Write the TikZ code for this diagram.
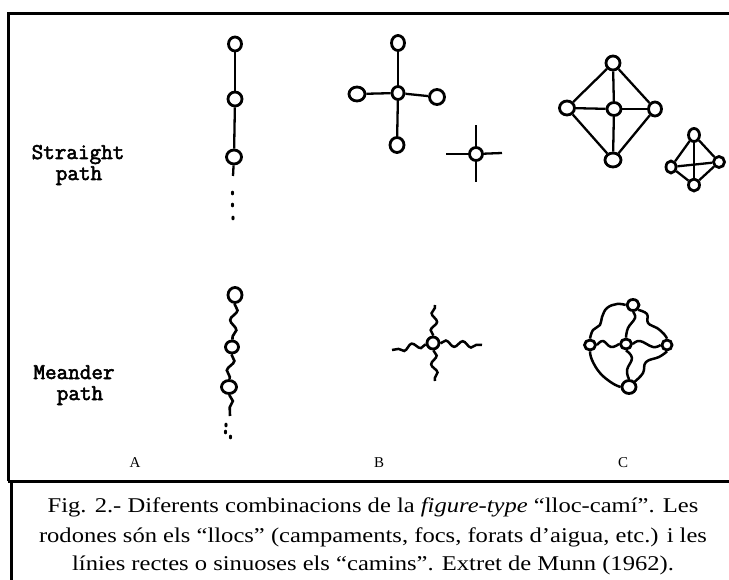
\documentclass[tikz,border=0pt]{standalone}
\usepackage{fontspec}
\setmainfont{Liberation Serif}
\newfontfamily\capfont[FakeStretch=1.17]{Liberation Serif}
\newfontfamily\typew[FakeBold=2.5]{Latin Modern Mono}
\usetikzlibrary{shapes.geometric,decorations.pathmorphing}
\begin{document}
\begin{tikzpicture}[x=1pt,y=-1pt,
  place/.style={draw,ellipse,line width=2.8pt,inner sep=0pt,fill=white},
  link/.style={line width=2.3pt},
  wavy/.style={line width=2.6pt,decorate,decoration={snake,segment length=20pt,amplitude=3.4pt}},
  wavyb/.style={line width=2.5pt,decorate,decoration={snake,segment length=17pt,amplitude=3pt}},
  wavyc/.style={line width=2.5pt,line join=round},
  dotm/.style={fill,ellipse,inner sep=0pt,minimum width=3.2pt,minimum height=4.8pt},
  frame/.style={line width=3pt},
  typelabel/.style={font=\typew\fontsize{22.5}{22}\selectfont,anchor=base},
  letter/.style={font=\fontsize{15}{18}\selectfont,anchor=base},
  caption/.style={font=\capfont\fontsize{21}{29}\selectfont,anchor=base}]
\useasboundingbox (0,0) rectangle (729,580);
% frames
\draw[frame] (8,481) -- (8,14) -- (729.5,14);
\draw[frame] (8,481) -- (729.5,481);
\draw[frame] (11,481) -- (11,581);

% labels
\node[typelabel] (ls1) at (78,159) {Straight};
\node[typelabel] (ls2) at (79,180) {path};
\node[typelabel] (lm1) at (74,379) {Meander};
\node[typelabel] (lm2) at (80,400) {path};
\node[letter] (lA) at (135,467) {A};
\node[letter] (lB) at (379,467) {B};
\node[letter] (lC) at (623,467) {C};

% ---------- straight A ----------
\node[place,minimum width=13pt,minimum height=14pt] (a1) at (235,44) {};
\node[place,minimum width=14pt,minimum height=14pt] (a2) at (235,99) {};
\node[place,minimum width=15pt,minimum height=14pt] (a3) at (234,157) {};
\coordinate (a4) at (233,176);
\draw[link] (a1) -- (a2);
\draw[link] (a2) -- (a3);
\draw[link] (a3) -- (a4);
\node[dotm] (ad1) at (232.5,193) {};
\node[dotm] (ad2) at (232.5,205) {};
\node[dotm] (ad3) at (233,218) {};

% ---------- straight B ----------
\node[place,minimum width=12pt,minimum height=13pt] (b0) at (398,93) {};
\node[place,minimum width=13pt,minimum height=15pt] (bt) at (398,43) {};
\node[place,minimum width=16pt,minimum height=14pt] (bl) at (357,94) {};
\node[place,minimum width=15pt,minimum height=15pt] (br) at (437,97) {};
\node[place,minimum width=14pt,minimum height=15pt] (bb) at (397,145) {};
\draw[link] (b0) -- (bt);
\draw[link] (b0) -- (bl);
\draw[link] (b0) -- (br);
\draw[link] (b0) -- (bb);

\node[place,minimum width=13pt,minimum height=13pt] (s0) at (476,154) {};
\coordinate (su) at (476,125);
\coordinate (sd) at (476,182);
\coordinate (sl) at (446,154);
\coordinate (sr) at (502,153);
\draw[link] (s0) -- (su);
\draw[link] (s0) -- (sd);
\draw[link] (s0) -- (sl);
\draw[link] (s0) -- (sr);

% ---------- straight C ----------
\node[place,minimum width=14pt,minimum height=14pt] (ct1) at (613,63) {};
\node[place,minimum width=15pt,minimum height=14pt] (cl1) at (567,108) {};
\node[place,minimum width=14pt,minimum height=13pt] (cc1) at (614,109) {};
\node[place,minimum width=13pt,minimum height=14pt] (cr1) at (655,109) {};
\node[place,minimum width=16pt,minimum height=14pt] (cb1) at (613,160) {};
\draw[link] (ct1) -- (cl1);
\draw[link] (ct1) -- (cr1);
\draw[link] (cl1) -- (cb1);
\draw[link] (cr1) -- (cb1);
\draw[link] (cl1) -- (cc1);
\draw[link] (cc1) -- (cr1);
\draw[link] (ct1) -- (cc1);
\draw[link] (cc1) -- (cb1);

\node[place,minimum width=11pt,minimum height=13pt] (dt) at (694,135) {};
\node[place,minimum width=10pt,minimum height=12pt] (dl) at (671,167) {};
\node[place,minimum width=11pt,minimum height=11pt] (dr) at (719,162) {};
\node[place,minimum width=11pt,minimum height=12pt] (db) at (694,185) {};
\draw[link] (dt) -- (dl);
\draw[link] (dt) -- (dr);
\draw[link] (dl) -- (db);
\draw[link] (dr) -- (db);
\draw[link] (dt) -- (db);
\draw[link] (dl) -- (dr);

% ---------- meander A ----------
\node[place,minimum width=14pt,minimum height=15pt] (m1) at (235,295) {};
\node[place,minimum width=13pt,minimum height=12pt] (m2) at (232,347) {};
\node[place,minimum width=15pt,minimum height=13pt] (m3) at (229,387) {};
\coordinate (m4) at (230,416);
\draw[wavy] (m1) -- (m2);
\draw[wavy] (m2) -- (m3);
\draw[wavy] (m3) -- (m4);
\node[dotm] (md1) at (226,425) {};
\node[dotm] (md2) at (225.5,432) {};
\node[dotm] (md3) at (230.5,437) {};

% ---------- meander B ----------
\node[place,minimum width=12pt,minimum height=12pt] (n0) at (433,343) {};
\coordinate (nu) at (435,305);
\coordinate (nd) at (435,381);
\coordinate (nl) at (392,350);
\coordinate (nr) at (482,345);
\draw[wavyb] (n0) -- (nu);
\draw[wavyb] (n0) -- (nd);
\draw[wavyb] (n0) -- (nl);
\draw[wavyb] (n0) -- (nr);

% ---------- meander C ----------
\node[place,minimum width=12pt,minimum height=11pt] (kt) at (633,305) {};
\node[place,minimum width=11pt,minimum height=10pt] (kl) at (590,345) {};
\node[place,minimum width=11pt,minimum height=10pt] (kc) at (626,344) {};
\node[place,minimum width=10pt,minimum height=10pt] (kr) at (667,345) {};
\node[place,minimum width=14pt,minimum height=13pt] (kb) at (629,387) {};
\draw[wavyc] plot[smooth,tension=0.7] coordinates {(kt.west) (617,304) (607,308) (602,317) (600,325) (593,330) (kl.north)};
\draw[wavyc] plot[smooth,tension=0.7] coordinates {(kt.south east) (647,314) (648,323) (657,328) (664,334) (kr.north)};
\draw[wavyc] plot[smooth,tension=0.7] coordinates {(kt.south) (635,318) (628,328) (kc.north)};
\draw[wavyc] plot[smooth,tension=0.7] coordinates {(kl.east) (603,341) (611,347) (kc.west)};
\draw[wavyc] plot[smooth,tension=0.7] coordinates {(kc.east) (640,341) (653,347) (kr.west)};
\draw[wavyc] plot[smooth,tension=0.7] coordinates {(kl.south) (592,360) (600,373) (612,383) (kb.west)};
\draw[wavyc] plot[smooth,tension=0.7] coordinates {(kr.south) (659,357) (646,362) (643,373) (kb.north east)};
\draw[wavyc] plot[smooth,tension=0.7] coordinates {(kc.south) (632,358) (627,370) (kb.north)};

% caption
\node[caption] (cap1) at (373,512) {Fig. 2.- Diferents combinacions de la \textit{figure-type} “lloc-camí”. Les};
\node[caption] (cap2) at (373,542) {rodones són els “llocs” (campaments, focs, forats d’aigua, etc.) i les};
\node[caption] (cap3) at (373,570) {línies rectes o sinuoses els “camins”. Extret de Munn (1962).};
\end{tikzpicture}
\end{document}
